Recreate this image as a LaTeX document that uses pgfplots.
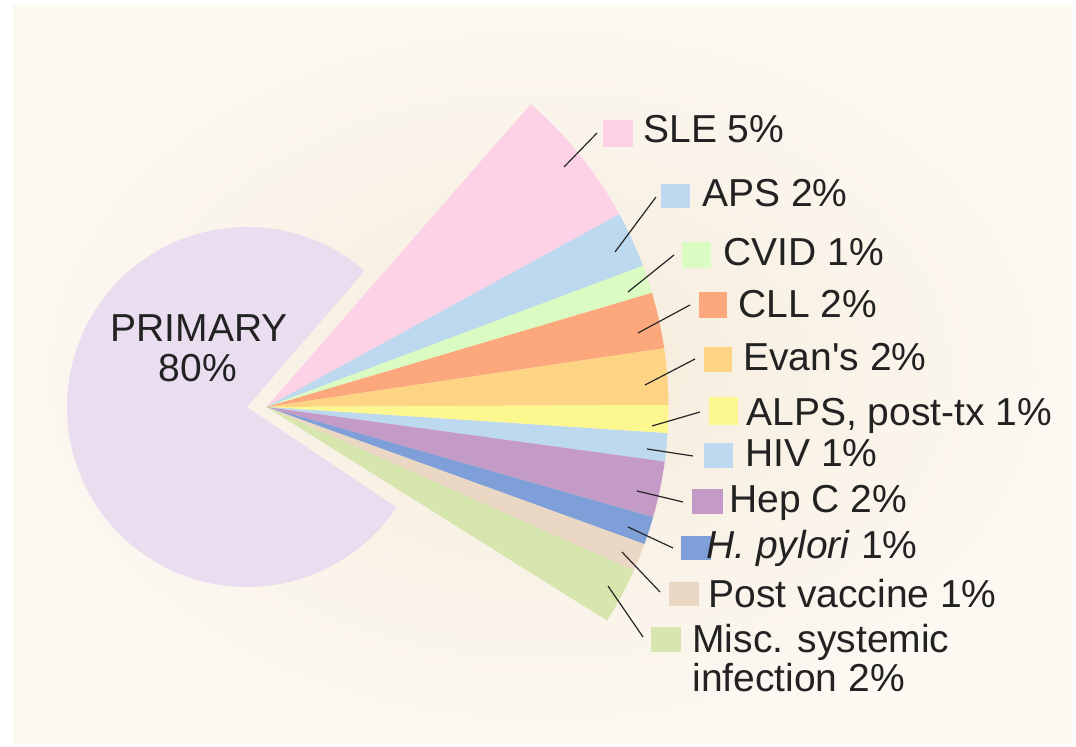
\documentclass[border=0pt]{standalone}
\usepackage{pgfplots}
\pgfplotsset{compat=1.18}
\usepackage{pgfplotstable}
\usepackage{fontspec}
\setmainfont{Liberation Sans}

\definecolor{bgin}{HTML}{F5EBDA}
\definecolor{bgout}{HTML}{FCF8F2}
\definecolor{primc}{HTML}{E9DDEF}
\definecolor{c0}{HTML}{FDD1E6}
\definecolor{c1}{HTML}{BCD9F0}
\definecolor{c2}{HTML}{DAFCC2}
\definecolor{c3}{HTML}{FDA87C}
\definecolor{c4}{HTML}{FDD483}
\definecolor{c5}{HTML}{FDF78F}
\definecolor{c6}{HTML}{BCD9F0}
\definecolor{c7}{HTML}{C39BC6}
\definecolor{c8}{HTML}{7F9FD8}
\definecolor{c9}{HTML}{EAD7C4}
\definecolor{c10}{HTML}{D7E6AE}
\definecolor{txt}{HTML}{222222}

% secondary (fan) slices, in percent
\pgfplotstableread{
name pct
SLE 5
APS 2
CVID 1
CLL 2
Evans 2
ALPS 1
HIV 1
HepC 2
Hpylori 1
Postvaccine 1
Misc 2
}\fantable

% angles of the fan slices (4.05 degrees per percent, starting at 48.9 deg, clockwise)
\xdef\curang{48.9}%
\pgfplotsforeachungrouped \i in {0,...,10}{%
  \pgfplotstablegetelem{\i}{pct}\of\fantable
  \pgfmathsetmacro\nextang{\curang-\pgfplotsretval*4.05}%
  \expandafter\xdef\csname fanS\i\endcsname{\curang}%
  \expandafter\xdef\csname fanE\i\endcsname{\nextang}%
  \xdef\curang{\nextang}%
}%

\begin{document}
\begin{tikzpicture}
\begin{axis}[
  width=538pt, height=373.5pt, scale only axis,
  xmin=0, xmax=1076, ymin=0, ymax=747,
  hide axis, clip=false,
]
% background
\fill[white] (axis cs:0,0) rectangle (axis cs:1076,747);
\shade[inner color=bgin, outer color=bgout] (axis cs:13,3) rectangle (axis cs:1072,741);
% primary slice (80%)
\fill[primc] (axis cs:247,340) -- +(49.2:90pt) arc[start angle=49.2, end angle=326.1, radius=90pt] -- cycle;
% fan slices
\pgfplotsinvokeforeach{0,...,10}{
  \fill[c#1] (axis cs:266.5,340) -- +(\csname fanS#1\endcsname:201pt)
     arc[start angle=\csname fanS#1\endcsname, end angle=\csname fanE#1\endcsname, radius=201pt] -- cycle;
}
% leader lines
\begin{scope}[line width=0.6pt, black!85]
\draw (axis cs:564,580) -- (axis cs:597,614);
\draw (axis cs:615,495) -- (axis cs:656,550);
\draw (axis cs:628,455) -- (axis cs:674,492);
\draw (axis cs:638,414) -- (axis cs:690,442);
\draw (axis cs:645,362) -- (axis cs:695,388);
\draw (axis cs:652,321) -- (axis cs:700,335);
\draw (axis cs:647,298) -- (axis cs:693,291);
\draw (axis cs:637,256) -- (axis cs:683,245);
\draw (axis cs:628,220) -- (axis cs:673,199);
\draw (axis cs:622,195) -- (axis cs:660,155);
\draw (axis cs:608,161) -- (axis cs:643,110);
\end{scope}
% legend squares
\fill[c0]  (axis cs:603,627) rectangle (axis cs:633,600);
\fill[c1]  (axis cs:661,563) rectangle (axis cs:690,539);
\fill[c2]  (axis cs:682,505) rectangle (axis cs:711,479);
\fill[c3]  (axis cs:699,455) rectangle (axis cs:727,429);
\fill[c4]  (axis cs:704,400) rectangle (axis cs:732,375);
\fill[c5]  (axis cs:709,350) rectangle (axis cs:738,322);
\fill[c6]  (axis cs:704,304) rectangle (axis cs:733,279);
\fill[c7]  (axis cs:692,258) rectangle (axis cs:723,233);
\fill[c8]  (axis cs:681,211) rectangle (axis cs:711,187);
\fill[c9]  (axis cs:669,165) rectangle (axis cs:699,141);
\fill[c10] (axis cs:651,120) rectangle (axis cs:681,95);
% labels
\begin{scope}[every node/.style={inner sep=0pt, text=txt, font=\fontsize{19.5}{20}\selectfont}]
\node[anchor=base] at (axis cs:199,405) {PRIMARY};
\node[anchor=base] at (axis cs:198,365) {80\%};
\node[anchor=base west] at (axis cs:643,604) {SLE 5\%};
\node[anchor=base west] at (axis cs:702,540) {APS 2\%};
\node[anchor=base west] at (axis cs:723,481) {CVID 1\%};
\node[anchor=base west] at (axis cs:738,429) {CLL 2\%};
\node[anchor=base west] at (axis cs:743,376) {Evan\textquotesingle s 2\%};
\node[anchor=base west] at (axis cs:746,321) {ALPS, post-tx 1\%};
\node[anchor=base west] at (axis cs:745,280) {HIV 1\%};
\node[anchor=base west] at (axis cs:729,234) {Hep C 2\%};
\node[anchor=base west] at (axis cs:706,188) {\textit{H. pylori} 1\%};
\node[anchor=base west] at (axis cs:708,139) {Post vaccine 1\%};
\node[anchor=base west] at (axis cs:692,94) {Misc. systemic};
\node[anchor=base west] at (axis cs:692,55) {infection 2\%};
\end{scope}
\end{axis}
\pgfresetboundingbox
\path[use as bounding box] (current axis.south west) rectangle (current axis.north east);
\end{tikzpicture}
\end{document}
